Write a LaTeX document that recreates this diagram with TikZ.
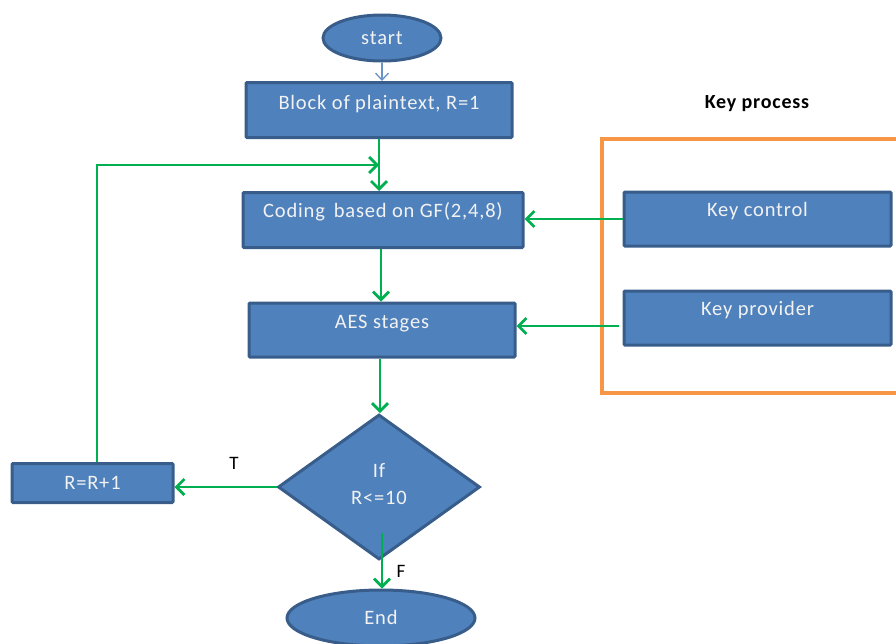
\documentclass[tikz,border=0pt]{standalone}
\usepackage{fontspec}
\setmainfont{Carlito}[LetterSpace=4]
\usetikzlibrary{shapes.geometric,arrows.meta}
\definecolor{boxfill}{HTML}{4F81BD}
\definecolor{boxline}{HTML}{385D8A}
\definecolor{flowgreen}{HTML}{00B050}
\definecolor{keyorange}{HTML}{F79646}
\definecolor{boxtext}{HTML}{F2F2F2}
\tikzset{
  blk/.style={draw=boxline, fill=boxfill, line width=3pt, rectangle, rounded corners=1pt, inner sep=0pt},
  ell/.style={draw=boxline, fill=boxfill, line width=3pt, ellipse, inner sep=0pt},
  dia/.style={draw=boxline, fill=boxfill, line width=3pt, diamond, inner sep=0pt},
  wtxt/.style={text=boxtext, font=\fontsize{20.5}{27}\selectfont, inner sep=0pt, align=center},
  btxt/.style={text=black, font=\fontsize{19}{22}\selectfont, inner sep=0pt},
  garrow/.style={draw=flowgreen, line width=2.8pt, -{Straight Barb[length=8pt,width=16pt,line width=2.8pt]}},
  barrow/.style={draw=boxfill!85, line width=1.3pt, -{Straight Barb[length=7pt,width=13pt,line width=1.3pt]}}
}
\begin{document}
\begin{tikzpicture}[x=1pt,y=-1pt]
\useasboundingbox (0,0) rectangle (896,643);
% key process frame
\draw[keyorange, line width=3.2pt] (920,139) -- (602,139) -- (602,393) -- (920,393);
\node[text=black, font=\fontsize{20}{24}\selectfont\bfseries, inner sep=0pt] (keyproc) at (757,104) {Key process};
% nodes
\node[ell, minimum width=118pt, minimum height=46pt] (start) at (382,38) {};
\node[wtxt] at (start.center) {start};
\node[blk, minimum width=266pt, minimum height=55pt] (block) at (379,110) {};
\node[wtxt] at ([yshift=6pt]block.center) {Block of plaintext, R=1};
\node[blk, minimum width=280pt, minimum height=55pt] (coding) at (383,220) {};
\node[wtxt] at ([yshift=8pt]coding.center) {Coding\,\ based on GF(2,4,8)};
\node[blk, minimum width=266pt, minimum height=54pt] (aes) at (382,330) {};
\node[wtxt] at ([yshift=6pt]aes.center) {AES stages};
\node[dia, minimum width=202pt, minimum height=145pt] (cond) at (379,487) {};
\node[wtxt] at ([yshift=3pt]cond.center) {If\\R<=10};
\node[blk, minimum width=161pt, minimum height=39pt] (rr) at (92.5,483) {};
\node[wtxt] at (rr.center) {R=R+1};
\node[ell, minimum width=188pt, minimum height=56pt] (end) at (381,618) {};
\node[wtxt] at ([yshift=1pt]end.center) {End};
\node[blk, minimum width=267pt, minimum height=54pt] (kc) at (757.5,219) {};
\node[wtxt] at ([yshift=8pt]kc.center) {Key control};
\node[blk, minimum width=267pt, minimum height=54pt] (kp) at (757.5,318) {};
\node[wtxt] at ([yshift=8pt]kp.center) {Key provider};
\node[btxt] (tlab) at (234,463) {T};
\node[btxt] (flab) at (401,571) {F};
% connectors
\coordinate (loopend) at (379,165);
\coordinate (fstart) at (382,533);
\draw[barrow] (start.south) -- (start.south |- block.north);
\draw[garrow] (block.south) -- (block.south |- coding.north);
\draw[garrow] ([xshift=4.5pt]rr.north) |- (loopend);
\draw[garrow] ([xshift=-2pt]coding.south) -- ([xshift=-2pt]coding.south |- aes.north);
\draw[garrow] ([xshift=-2pt]aes.south) -- ([xshift=-2pt]aes.south |- cond.north);
\draw[garrow] (cond.west) -- (cond.west -| rr.east);
\draw[garrow] (fstart) -- (fstart |- end.north);
\draw[garrow] (kc.west) -- (kc.west -| coding.east);
\draw[garrow] ([xshift=-4pt,yshift=-8pt]kp.west) -- ([yshift=-8pt]kp.west -| aes.east);
\end{tikzpicture}
\end{document}
